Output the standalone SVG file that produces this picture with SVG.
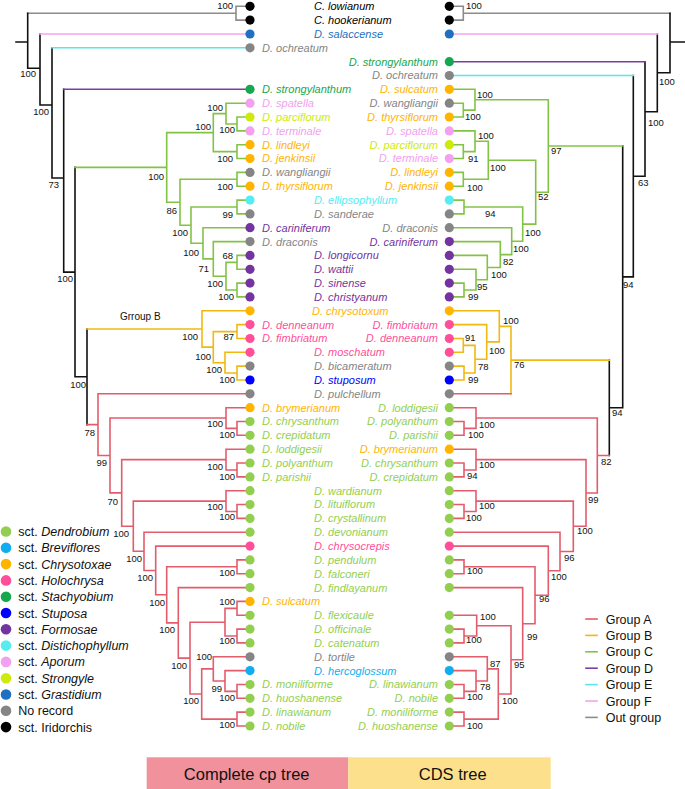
<svg xmlns="http://www.w3.org/2000/svg" width="685" height="789" viewBox="0 0 685 789">
<style>
.ln{fill:none;stroke-width:1.6;stroke-linecap:square}
.lk{stroke:#111}.lg{stroke:#8c8c8c}.lA{stroke:#e35c6c}.lB{stroke:#f0b912}.lC{stroke:#82c346}.lD{stroke:#7a3fa0}.lE{stroke:#55e6ef}.lF{stroke:#f2a4ee}
.t{font-family:"Liberation Sans",Arial,sans-serif;font-size:11px;font-style:italic}
.r{text-anchor:end}
.bs{font-family:"Liberation Sans",Arial,sans-serif;font-size:9.5px;fill:#111}
.bl text{text-anchor:end}
.lg2{font-family:"Liberation Sans",Arial,sans-serif;font-size:12.5px;fill:#111}
.k{fill:#000}.gr{fill:#1f70c1}.na{fill:#858585}.st{fill:#16a84e}.ap{fill:#f2a0ef}.sg{fill:#cdea0c}.ch{fill:#ffb400}.di{fill:#55edf2}.fo{fill:#7334a0}.ho{fill:#ff4f9b}.su{fill:#0000ff}.de{fill:#92cf50}.bv{fill:#10aef0}
</style>

<g id="connectors">
<!-- left tree -->
<path class="ln lg" d="M27.7,13.2H236M236,6.3V20.1M236,6.3H250M236,20.1H250"/>
<path class="ln lk" d="M16,42H27.7M27.7,13.2V68.3M27.7,68.3H40M40,34V105M40,105H52M52,47.8V178M52,178H63.7M63.7,89.3V272.1M63.7,272.1H75M75,167.4V376.8M75,376.8H87M87,329V424.6"/>
<path class="ln lF" d="M40,34H250"/>
<path class="ln lE" d="M52,47.8H250"/>
<path class="ln lD" d="M63.7,89.3H250"/>
<path class="ln lC" d="M75,167.4H166.7M166.7,132.6V202.2M166.7,132.6H213.3M213.3,113.6V151.6M213.3,113.6H226M226,103.2V124M226,103.2H250M226,124H237M237,117V130.9M237,117H250M237,130.9H250M213.3,151.6H237M237,144.7V158.5M237,144.7H250M237,158.5H250M166.7,202.2H180M180,179.3V225.2M180,179.3H237M237,172.4V186.2M237,172.4H250M237,186.2H250M180,225.2H191M191,207V243.3M191,207H237M237,200.1V213.9M237,200.1H250M237,213.9H250M191,243.3H203M203,227.7V258.9M203,227.7H250M203,258.9H213.3M213.3,241.6V276.2M213.3,241.6H250M213.3,276.2H226M226,262.4V290M226,262.4H237M237,255.4V269.3M237,255.4H250M237,269.3H250M226,290H237M237,283.1V296.9M237,283.1H250M237,296.9H250"/>
<path class="ln lB" d="M87,329H202M202,310.8V347.1M202,310.8H250M202,347.1H213.3M213.3,331.6V362.7M213.3,331.6H237M237,324.6V338.5M237,324.6H250M237,338.5H250M213.3,362.7H225M225,352.3V373M225,352.3H250M225,373H237M237,366.1V380M237,366.1H250M237,380H250"/>
<path class="ln lA" d="M87,424.6H98M98,393.8V455.5M98,393.8H250M98,455.5H110M110,418V492.9M110,418H226M226,407.7V428.4M226,407.7H250M226,428.4H237M237,421.5V435.3M237,421.5H250M237,435.3H250M110,492.9H121.7M121.7,459.6V526.2M121.7,459.6H226M226,449.2V470M226,449.2H250M226,470H237M237,463V476.9M237,463H250M237,476.9H250M121.7,526.2H133.3M133.3,501.1V551.3M133.3,501.1H226M226,490.7V511.5M226,490.7H250M226,511.5H237M237,504.5V518.4M237,504.5H250M237,518.4H250M133.3,551.3H144M144,532.2V570.5M144,532.2H250M144,570.5H155.7M155.7,546.1V594.8M155.7,546.1H250M155.7,594.8H166.7M166.7,566.8V622.9M166.7,566.8H237M237,559.9V573.7M237,559.9H250M237,573.7H250M166.7,622.9H178.3M178.3,587.6V658.1M178.3,587.6H250M178.3,658.1H190M190,622.2V694M190,622.2H225M225,608.4V636M225,608.4H237M237,601.4V615.3M237,601.4H250M237,615.3H250M225,636H237M237,629.1V642.9M237,629.1H250M237,642.9H250M190,694H201.7M201.7,668.9V719.1M201.7,668.9H213.3M213.3,656.8V681M213.3,656.8H250M213.3,681H225M225,670.6V691.4M225,670.6H250M225,691.4H237M237,684.5V698.3M237,684.5H250M237,698.3H250M201.7,719.1H237M237,712.1V726M237,712.1H250M237,726H250"/>
<!-- right tree -->
<path class="ln lg" d="M449.3,6.3H463.3M449.3,20.1H463.3M463.3,6.3V20.1M463.3,13.2H670"/>
<path class="ln lk" d="M670,13.2V72.7M670,42H686M670,72.7H657.3M657.3,34V111.7M657.3,111.7H645M645,61.7V176.2M645,176.2H633.3M633.3,75.5V276.9M633.3,276.9H622.7M622.7,146V407.8M622.7,407.8H609.3M609.3,360.1V455.5"/>
<path class="ln lF" d="M449.3,34H657.3"/>
<path class="ln lD" d="M449.3,61.7H645"/>
<path class="ln lE" d="M449.3,75.5H633.3"/>
<path class="ln lC" d="M622.7,146H548.3M548.3,99.7V192.2M548.3,99.7H475M475,89.3V110.1M475,89.3H449.3M475,110.1H463.3M463.3,103.2V117M463.3,103.2H449.3M463.3,117H449.3M548.3,192.2H535.7M535.7,160.3V224.1M535.7,160.3H488.3M488.3,141.3V179.3M488.3,141.3H475M475,130.9V151.6M475,130.9H449.3M475,151.6H463.3M463.3,144.7V158.5M463.3,144.7H449.3M463.3,158.5H449.3M488.3,179.3H463.3M463.3,172.4V186.2M463.3,172.4H449.3M463.3,186.2H449.3M535.7,224.1H522.7M522.7,207V241.2M522.7,207H464M464,200.1V213.9M464,200.1H449.3M464,213.9H449.3M522.7,241.2H511.7M511.7,227.7V254.6M511.7,227.7H449.3M511.7,254.6H500.3M500.3,241.6V267.5M500.3,241.6H449.3M500.3,267.5H487.3M487.3,255.4V279.7M487.3,255.4H449.3M487.3,279.7H476M476,269.3V290M476,269.3H449.3M476,290H464M464,283.1V296.9M464,283.1H449.3M464,296.9H449.3"/>
<path class="ln lB" d="M609.3,360.1H511M511,326.4V393.8M511,326.4H499.3M499.3,310.8V341.9M499.3,310.8H449.3M499.3,341.9H486.7M486.7,324.6V359.2M486.7,324.6H449.3M486.7,359.2H475M475,345.4V373M475,345.4H463.3M463.3,338.5V352.3M463.3,338.5H449.3M463.3,352.3H449.3M475,373H464M464,366.1V380M464,366.1H449.3M464,380H449.3"/>
<path class="ln lA" d="M511,393.8H449.3M609.3,455.5H597.3M597.3,418V493M597.3,418H476M476,407.7V428.4M476,407.7H449.3M476,428.4H464M464,421.5V435.3M464,421.5H449.3M464,435.3H449.3M597.3,493H586M586,459.6V526.3M586,459.6H476M476,449.2V470M476,449.2H449.3M476,470H464M464,463V476.9M464,463H449.3M464,476.9H449.3M586,526.3H573.3M573.3,501.1V551.5M573.3,501.1H476M476,490.7V511.5M476,490.7H449.3M476,511.5H464M464,504.5V518.4M464,504.5H449.3M464,518.4H449.3M573.3,551.5H560M560,532.2V570.7M560,532.2H449.3M560,570.7H548.3M548.3,546.1V595.3M548.3,546.1H449.3M548.3,595.3H535M535,566.8V623.7M535,566.8H464M464,559.9V573.7M464,559.9H449.3M464,573.7H449.3M535,623.7H522.7M522.7,587.6V659.8M522.7,587.6H449.3M522.7,659.8H511M511,625.7V694M511,625.7H476.7M476.7,615.3V636M476.7,615.3H449.3M476.7,636H464M464,629.1V642.9M464,629.1H449.3M464,642.9H449.3M511,694H498.3M498.3,668.9V719.1M498.3,668.9H487.3M487.3,656.8V681M487.3,656.8H449.3M487.3,681H476M476,670.6V691.4M476,670.6H449.3M476,691.4H464M464,684.5V698.3M464,684.5H449.3M464,698.3H449.3M498.3,719.1H464M464,712.1V726M464,712.1H449.3M464,726H449.3"/>
</g>

<g id="support-left" class="bs bl">
<text x="233" y="9">100</text><text x="36" y="77.4">100</text><text x="49" y="115.1">100</text><text x="59" y="187.7">73</text><text x="73" y="282.4">100</text>
<text x="164" y="180.4">100</text><text x="211" y="130.4">100</text><text x="223" y="111.4">100</text><text x="235" y="133.4">100</text><text x="233" y="162.4">100</text>
<text x="233" y="190.4">100</text><text x="177" y="214.1">86</text><text x="188" y="236.4">100</text><text x="233" y="218.4">99</text><text x="199" y="256.1">100</text>
<text x="209" y="272.4">71</text><text x="223" y="287.4">100</text><text x="233" y="259.4">68</text><text x="234" y="300.1">100</text>
<text x="198" y="340.1">100</text><text x="234" y="340.1">87</text><text x="211" y="360.1">100</text><text x="222" y="373.4">100</text><text x="235" y="383.4">100</text>
<text x="86" y="388.4">100</text><text x="95" y="436.4">78</text><text x="107" y="466.4">99</text><text x="223" y="427.4">100</text><text x="235" y="438.4">100</text>
<text x="118" y="505.1">70</text><text x="223" y="470.1">100</text><text x="235" y="480.1">100</text><text x="129" y="537.4">100</text><text x="223" y="510.1">100</text>
<text x="235" y="520.4">100</text><text x="142" y="562.4">100</text><text x="153" y="580.9">100</text><text x="235" y="576.1">100</text><text x="165" y="606.1">100</text>
<text x="175" y="633.4">100</text><text x="235" y="605.1">100</text><text x="235" y="644.4">100</text><text x="187" y="669.4">100</text><text x="212" y="660.4">100</text>
<text x="222" y="691.7">99</text><text x="235" y="701.1">100</text><text x="199" y="704.1">100</text><text x="235" y="728.4">100</text>
</g>
<g id="support-right" class="bs">
<text x="466" y="9">100</text><text x="659" y="85.1">100</text><text x="648" y="126.1">100</text><text x="638" y="186.1">63</text><text x="623" y="288.4">94</text>
<text x="612" y="416.4">94</text><text x="601" y="465.1">82</text><text x="514" y="368.4">76</text><text x="551" y="154.4">97</text><text x="477" y="97.7">100</text>
<text x="465" y="120.1">100</text><text x="538" y="200.1">52</text><text x="490" y="171.1">100</text><text x="478" y="139.4">100</text><text x="468" y="162.4">91</text>
<text x="467" y="190.7">100</text><text x="485" y="217.4">94</text><text x="525" y="236.1">100</text><text x="513" y="251.7">100</text><text x="503" y="265.1">82</text>
<text x="491" y="277.7">100</text><text x="477" y="290.1">95</text><text x="468" y="300.1">99</text><text x="503" y="324.4">100</text><text x="489" y="354.4">100</text>
<text x="465" y="341.1">91</text><text x="478" y="370.1">78</text><text x="468" y="382.7">99</text><text x="468" y="438.4">100</text><text x="479" y="427.7">100</text>
<text x="467" y="479.1">94</text><text x="479" y="468.4">100</text><text x="588" y="503.4">99</text><text x="479" y="509.1">100</text><text x="466" y="520.7">100</text>
<text x="577" y="534.4">100</text><text x="564" y="561.1">96</text><text x="551" y="579.9">100</text><text x="467" y="574.1">100</text><text x="539" y="601.7">96</text>
<text x="527" y="640.1">99</text><text x="480" y="620.1">100</text><text x="466" y="643.4">100</text><text x="514" y="668.4">95</text><text x="490" y="666.7">87</text>
<text x="480" y="690.1">78</text><text x="467" y="700.1">100</text><text x="502" y="704.4">100</text><text x="467" y="728.7">100</text>
</g>
<text id="group-b-label" x="120" y="320.3" font-family="Liberation Sans, Arial, sans-serif" font-size="10" fill="#111">Grroup B</text>

<g id="tips">
<g id="n00"><circle class="k" cx="250" cy="6.3" r="4.6"/><circle class="k" cx="449.3" cy="6.3" r="4.6"/><text class="t k" x="314" y="10.2">C. lowianum</text></g>
<g id="n01"><circle class="k" cx="250" cy="20.1" r="4.6"/><circle class="k" cx="449.3" cy="20.1" r="4.6"/><text class="t k" x="314" y="24">C. hookerianum</text></g>
<g id="n02"><circle class="gr" cx="250" cy="34" r="4.6"/><circle class="gr" cx="449.3" cy="34" r="4.6"/><text class="t gr" x="314" y="37.9">D. salaccense</text></g>
<g id="n03"><circle class="na" cx="250" cy="47.8" r="4.6"/><text class="t na" x="262" y="51.7">D. ochreatum</text></g>
<g id="n04"><circle class="st" cx="449.3" cy="61.7" r="4.6"/><text class="t st r" x="438" y="65.6">D. strongylanthum</text></g>
<g id="n05"><circle class="na" cx="449.3" cy="75.5" r="4.6"/><text class="t na r" x="438" y="79.4">D. ochreatum</text></g>
<g id="n06"><circle class="st" cx="250" cy="89.3" r="4.6"/><text class="t st" x="262" y="93.2">D. strongylanthum</text><circle class="ch" cx="449.3" cy="89.3" r="4.6"/><text class="t ch r" x="438" y="93.2">D. sulcatum</text></g>
<g id="n07"><circle class="ap" cx="250" cy="103.2" r="4.6"/><text class="t ap" x="262" y="107.1">D. spatella</text><circle class="na" cx="449.3" cy="103.2" r="4.6"/><text class="t na r" x="438" y="107.1">D. wangliangii</text></g>
<g id="n08"><circle class="sg" cx="250" cy="117" r="4.6"/><text class="t sg" x="262" y="120.9">D. parciflorum</text><circle class="ch" cx="449.3" cy="117" r="4.6"/><text class="t ch r" x="438" y="120.9">D. thyrsiflorum</text></g>
<g id="n09"><circle class="ap" cx="250" cy="130.9" r="4.6"/><text class="t ap" x="262" y="134.8">D. terminale</text><circle class="ap" cx="449.3" cy="130.9" r="4.6"/><text class="t ap r" x="438" y="134.8">D. spatella</text></g>
<g id="n10"><circle class="ch" cx="250" cy="144.7" r="4.6"/><text class="t ch" x="262" y="148.6">D. lindleyi</text><circle class="sg" cx="449.3" cy="144.7" r="4.6"/><text class="t sg r" x="438" y="148.6">D. parciflorum</text></g>
<g id="n11"><circle class="ch" cx="250" cy="158.5" r="4.6"/><text class="t ch" x="262" y="162.4">D. jenkinsii</text><circle class="ap" cx="449.3" cy="158.5" r="4.6"/><text class="t ap r" x="438" y="162.4">D. terminale</text></g>
<g id="n12"><circle class="na" cx="250" cy="172.4" r="4.6"/><text class="t na" x="262" y="176.3">D. wangliangii</text><circle class="ch" cx="449.3" cy="172.4" r="4.6"/><text class="t ch r" x="438" y="176.3">D. lindleyi</text></g>
<g id="n13"><circle class="ch" cx="250" cy="186.2" r="4.6"/><text class="t ch" x="262" y="190.1">D. thyrsiflorum</text><circle class="ch" cx="449.3" cy="186.2" r="4.6"/><text class="t ch r" x="438" y="190.1">D. jenkinsii</text></g>
<g id="n14"><circle class="di" cx="250" cy="200.1" r="4.6"/><circle class="di" cx="449.3" cy="200.1" r="4.6"/><text class="t di" x="314" y="204">D. ellipsophyllum</text></g>
<g id="n15"><circle class="na" cx="250" cy="213.9" r="4.6"/><circle class="na" cx="449.3" cy="213.9" r="4.6"/><text class="t na" x="314" y="217.8">D. sanderae</text></g>
<g id="n16"><circle class="fo" cx="250" cy="227.7" r="4.6"/><text class="t fo" x="262" y="231.6">D. cariniferum</text><circle class="na" cx="449.3" cy="227.7" r="4.6"/><text class="t na r" x="438" y="231.6">D. draconis</text></g>
<g id="n17"><circle class="na" cx="250" cy="241.6" r="4.6"/><text class="t na" x="262" y="245.5">D. draconis</text><circle class="fo" cx="449.3" cy="241.6" r="4.6"/><text class="t fo r" x="438" y="245.5">D. cariniferum</text></g>
<g id="n18"><circle class="fo" cx="250" cy="255.4" r="4.6"/><circle class="fo" cx="449.3" cy="255.4" r="4.6"/><text class="t fo" x="314" y="259.3">D. longicornu</text></g>
<g id="n19"><circle class="fo" cx="250" cy="269.3" r="4.6"/><circle class="fo" cx="449.3" cy="269.3" r="4.6"/><text class="t fo" x="314" y="273.2">D. wattii</text></g>
<g id="n20"><circle class="fo" cx="250" cy="283.1" r="4.6"/><circle class="fo" cx="449.3" cy="283.1" r="4.6"/><text class="t fo" x="314" y="287">D. sinense</text></g>
<g id="n21"><circle class="fo" cx="250" cy="296.9" r="4.6"/><circle class="fo" cx="449.3" cy="296.9" r="4.6"/><text class="t fo" x="314" y="300.8">D. christyanum</text></g>
<g id="n22"><circle class="ch" cx="250" cy="310.8" r="4.6"/><circle class="ch" cx="449.3" cy="310.8" r="4.6"/><text class="t ch" x="312" y="314.7">D. chrysotoxum</text></g>
<g id="n23"><circle class="ho" cx="250" cy="324.6" r="4.6"/><text class="t ho" x="262" y="328.5">D. denneanum</text><circle class="ho" cx="449.3" cy="324.6" r="4.6"/><text class="t ho r" x="438" y="328.5">D. fimbriatum</text></g>
<g id="n24"><circle class="ho" cx="250" cy="338.5" r="4.6"/><text class="t ho" x="262" y="342.4">D. fimbriatum</text><circle class="ho" cx="449.3" cy="338.5" r="4.6"/><text class="t ho r" x="438" y="342.4">D. denneanum</text></g>
<g id="n25"><circle class="ho" cx="250" cy="352.3" r="4.6"/><circle class="ho" cx="449.3" cy="352.3" r="4.6"/><text class="t ho" x="314" y="356.2">D. moschatum</text></g>
<g id="n26"><circle class="na" cx="250" cy="366.1" r="4.6"/><circle class="na" cx="449.3" cy="366.1" r="4.6"/><text class="t na" x="314" y="370">D. bicameratum</text></g>
<g id="n27"><circle class="su" cx="250" cy="380" r="4.6"/><circle class="su" cx="449.3" cy="380" r="4.6"/><text class="t su" x="314" y="383.9">D. stuposum</text></g>
<g id="n28"><circle class="na" cx="250" cy="393.8" r="4.6"/><circle class="na" cx="449.3" cy="393.8" r="4.6"/><text class="t na" x="314" y="397.7">D. pulchellum</text></g>
<g id="n29"><circle class="ch" cx="250" cy="407.7" r="4.6"/><text class="t ch" x="262" y="411.6">D. brymerianum</text><circle class="de" cx="449.3" cy="407.7" r="4.6"/><text class="t de r" x="438" y="411.6">D. loddigesii</text></g>
<g id="n30"><circle class="de" cx="250" cy="421.5" r="4.6"/><text class="t de" x="262" y="425.4">D. chrysanthum</text><circle class="de" cx="449.3" cy="421.5" r="4.6"/><text class="t de r" x="438" y="425.4">D. polyanthum</text></g>
<g id="n31"><circle class="de" cx="250" cy="435.3" r="4.6"/><text class="t de" x="262" y="439.2">D. crepidatum</text><circle class="de" cx="449.3" cy="435.3" r="4.6"/><text class="t de r" x="438" y="439.2">D. parishii</text></g>
<g id="n32"><circle class="de" cx="250" cy="449.2" r="4.6"/><text class="t de" x="262" y="453.1">D. loddigesii</text><circle class="ch" cx="449.3" cy="449.2" r="4.6"/><text class="t ch r" x="438" y="453.1">D. brymerianum</text></g>
<g id="n33"><circle class="de" cx="250" cy="463" r="4.6"/><text class="t de" x="262" y="466.9">D. polyanthum</text><circle class="de" cx="449.3" cy="463" r="4.6"/><text class="t de r" x="438" y="466.9">D. chrysanthum</text></g>
<g id="n34"><circle class="de" cx="250" cy="476.9" r="4.6"/><text class="t de" x="262" y="480.8">D. parishii</text><circle class="de" cx="449.3" cy="476.9" r="4.6"/><text class="t de r" x="438" y="480.8">D. crepidatum</text></g>
<g id="n35"><circle class="de" cx="250" cy="490.7" r="4.6"/><circle class="de" cx="449.3" cy="490.7" r="4.6"/><text class="t de" x="314" y="494.6">D. wardianum</text></g>
<g id="n36"><circle class="de" cx="250" cy="504.5" r="4.6"/><circle class="de" cx="449.3" cy="504.5" r="4.6"/><text class="t de" x="314" y="508.4">D. lituiflorum</text></g>
<g id="n37"><circle class="de" cx="250" cy="518.4" r="4.6"/><circle class="de" cx="449.3" cy="518.4" r="4.6"/><text class="t de" x="314" y="522.3">D. crystallinum</text></g>
<g id="n38"><circle class="de" cx="250" cy="532.2" r="4.6"/><circle class="de" cx="449.3" cy="532.2" r="4.6"/><text class="t de" x="314" y="536.1">D. devonianum</text></g>
<g id="n39"><circle class="ho" cx="250" cy="546.1" r="4.6"/><circle class="ho" cx="449.3" cy="546.1" r="4.6"/><text class="t ho" x="314" y="550">D. chrysocrepis</text></g>
<g id="n40"><circle class="de" cx="250" cy="559.9" r="4.6"/><circle class="de" cx="449.3" cy="559.9" r="4.6"/><text class="t de" x="314" y="563.8">D. pendulum</text></g>
<g id="n41"><circle class="de" cx="250" cy="573.7" r="4.6"/><circle class="de" cx="449.3" cy="573.7" r="4.6"/><text class="t de" x="314" y="577.6">D. falconeri</text></g>
<g id="n42"><circle class="de" cx="250" cy="587.6" r="4.6"/><circle class="de" cx="449.3" cy="587.6" r="4.6"/><text class="t de" x="314" y="591.5">D. findlayanum</text></g>
<g id="n43"><circle class="ch" cx="250" cy="601.4" r="4.6"/><text class="t ch" x="262" y="605.3">D. sulcatum</text></g>
<g id="n44"><circle class="de" cx="250" cy="615.3" r="4.6"/><circle class="de" cx="449.3" cy="615.3" r="4.6"/><text class="t de" x="314" y="619.2">D. flexicaule</text></g>
<g id="n45"><circle class="de" cx="250" cy="629.1" r="4.6"/><circle class="de" cx="449.3" cy="629.1" r="4.6"/><text class="t de" x="314" y="633">D. officinale</text></g>
<g id="n46"><circle class="de" cx="250" cy="642.9" r="4.6"/><circle class="de" cx="449.3" cy="642.9" r="4.6"/><text class="t de" x="314" y="646.8">D. catenatum</text></g>
<g id="n47"><circle class="na" cx="250" cy="656.8" r="4.6"/><circle class="na" cx="449.3" cy="656.8" r="4.6"/><text class="t na" x="314" y="660.7">D. tortile</text></g>
<g id="n48"><circle class="bv" cx="250" cy="670.6" r="4.6"/><circle class="bv" cx="449.3" cy="670.6" r="4.6"/><text class="t bv" x="314" y="674.5">D. hercoglossum</text></g>
<g id="n49"><circle class="de" cx="250" cy="684.5" r="4.6"/><text class="t de" x="262" y="688.4">D. moniliforme</text><circle class="de" cx="449.3" cy="684.5" r="4.6"/><text class="t de r" x="438" y="688.4">D. linawianum</text></g>
<g id="n50"><circle class="de" cx="250" cy="698.3" r="4.6"/><text class="t de" x="262" y="702.2">D. huoshanense</text><circle class="de" cx="449.3" cy="698.3" r="4.6"/><text class="t de r" x="438" y="702.2">D. nobile</text></g>
<g id="n51"><circle class="de" cx="250" cy="712.1" r="4.6"/><text class="t de" x="262" y="716">D. linawianum</text><circle class="de" cx="449.3" cy="712.1" r="4.6"/><text class="t de r" x="438" y="716">D. moniliforme</text></g>
<g id="n52"><circle class="de" cx="250" cy="726" r="4.6"/><text class="t de" x="262" y="729.9">D. nobile</text><circle class="de" cx="449.3" cy="726" r="4.6"/><text class="t de r" x="438" y="729.9">D. huoshanense</text></g>
</g>

<g id="legend-sections" class="lg2">
<circle class="de" cx="6" cy="531.5" r="5.3"/><text x="18.3" y="536">sct. <tspan font-style="italic">Dendrobium</tspan></text>
<circle class="bv" cx="6" cy="547.8" r="5.3"/><text x="18.3" y="552.3">sct. <tspan font-style="italic">Breviflores</tspan></text>
<circle class="ch" cx="6" cy="564.1" r="5.3"/><text x="18.3" y="568.6">sct. <tspan font-style="italic">Chrysotoxae</tspan></text>
<circle class="ho" cx="6" cy="580.4" r="5.3"/><text x="18.3" y="584.9">sct. <tspan font-style="italic">Holochrysa</tspan></text>
<circle class="st" cx="6" cy="596.7" r="5.3"/><text x="18.3" y="601.2">sct. <tspan font-style="italic">Stachyobium</tspan></text>
<circle class="su" cx="6" cy="613" r="5.3"/><text x="18.3" y="617.5">sct. <tspan font-style="italic">Stuposa</tspan></text>
<circle class="fo" cx="6" cy="629.3" r="5.3"/><text x="18.3" y="633.8">sct. <tspan font-style="italic">Formosae</tspan></text>
<circle class="di" cx="6" cy="645.6" r="5.3"/><text x="18.3" y="650.1">sct. <tspan font-style="italic">Distichophyllum</tspan></text>
<circle class="ap" cx="6" cy="661.9" r="5.3"/><text x="18.3" y="666.4">sct. <tspan font-style="italic">Aporum</tspan></text>
<circle class="sg" cx="6" cy="678.2" r="5.3"/><text x="18.3" y="682.7">sct. <tspan font-style="italic">Strongyle</tspan></text>
<circle class="gr" cx="6" cy="694.5" r="5.3"/><text x="18.3" y="699">sct. <tspan font-style="italic">Grastidium</tspan></text>
<circle class="na" cx="6" cy="710.8" r="5.3"/><text x="18.3" y="715.3">No record</text>
<circle class="k" cx="6" cy="727.1" r="5.3"/><text x="18.3" y="731.6">sct. Iridorchis</text>
</g>

<g id="legend-groups" class="lg2">
<path class="ln lA" stroke-width="2" d="M586,619H597"/><text x="605.7" y="623.5">Group A</text>
<path class="ln lB" stroke-width="2" d="M586,635.4H597"/><text x="605.7" y="639.9">Group B</text>
<path class="ln lC" stroke-width="2" d="M586,651.8H597"/><text x="605.7" y="656.3">Group C</text>
<path class="ln lD" stroke-width="2" d="M586,668.2H597"/><text x="605.7" y="672.7">Group D</text>
<path class="ln lE" stroke-width="2" d="M586,684.6H597"/><text x="605.7" y="689.1">Group E</text>
<path class="ln lF" stroke-width="2" d="M586,701H597"/><text x="605.7" y="705.5">Group F</text>
<path class="ln lg" stroke-width="2" d="M586,717.4H597"/><text x="605.7" y="721.9">Out group</text>
</g>

<g id="tree-titles" font-family="Liberation Sans, Arial, sans-serif" font-size="16.5" fill="#111" text-anchor="middle">
<rect x="146.7" y="757.3" width="201.6" height="32" fill="#f0919b"/>
<rect x="348.3" y="757.3" width="202.4" height="32" fill="#fde08c"/>
<text x="246.7" y="779.5">Complete cp tree</text>
<text x="452.7" y="779.5">CDS tree</text>
</g>
</svg>
